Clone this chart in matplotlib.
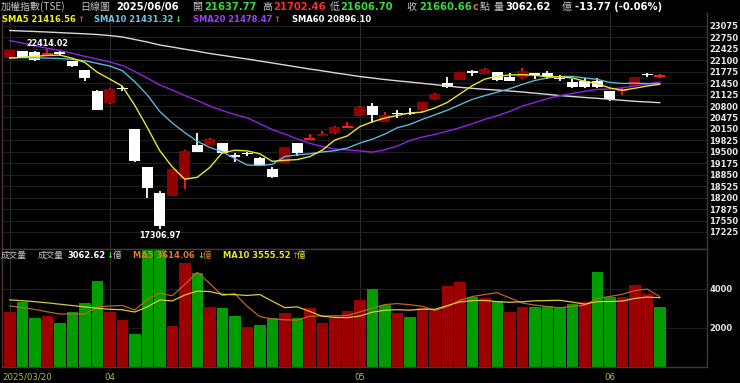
import matplotlib
matplotlib.use("Agg")
import matplotlib.pyplot as plt
from matplotlib.transforms import ScaledTranslation

W, H = 740, 383
CJK = ['Noto Sans CJK TC', 'DejaVu Sans']

# trading days shown (2025)
dates = ['03/20', '03/21', '03/24', '03/25', '03/26', '03/27', '03/28', '03/31',
         '04/01', '04/02', '04/07', '04/08', '04/09', '04/10', '04/11', '04/14',
         '04/15', '04/16', '04/17', '04/18', '04/21', '04/22', '04/23', '04/24',
         '04/25', '04/28', '04/29', '04/30',
         '05/02', '05/05', '05/06', '05/07', '05/08', '05/09', '05/12', '05/13',
         '05/14', '05/15', '05/16', '05/19', '05/20', '05/21', '05/22', '05/23',
         '05/26', '05/27', '05/28', '05/29',
         '06/02', '06/03', '06/04', '06/05', '06/06']

opens = [22154, 22361, 22341, 22255, 22320, 22077, 21828, 21240, 20877, 21300,
         20148, 19060, 18340, 18255, 18720, 19685, 19693, 19742, 19375, 19450,
         19316, 19012, 19174, 19742, 19845, 19949, 20026, 20190, 20516, 20800,
         20355, 20585, 20575, 20687, 20990, 21462, 21547, 21755, 21708, 21765,
         21632, 21586, 21723, 21745, 21570, 21490, 21518, 21518, 21235, 21225,
         21376, 21690, 21637.77]
highs = [22395, 22370, 22370, 22414.02, 22390, 22090, 21835, 21250, 21311, 21368,
         20160, 19070, 18388, 19010, 19540, 20026, 19884, 19750, 19458, 19503,
         19361, 19061, 19640, 19750, 20006, 20091, 20230, 20338, 20790, 20877,
         20638, 20687, 20735, 20910, 21178, 21615, 21770, 21822, 21870, 21770,
         21728, 21870, 21740, 21794, 21680, 21558, 21603, 21586, 21240, 21303,
         21620, 21745, 21702.46]
lows = [22150, 22185, 22090, 22228, 22228, 21907, 21518, 20690, 20870, 21234,
        19200, 18181, 17306.97, 18250, 18436, 19495, 19690, 19450, 19220, 19381,
        19090, 18770, 19170, 19381, 19840, 19945, 20020, 20185, 20510, 20326,
        20350, 20451, 20545, 20621, 20985, 21325, 21540, 21652, 21700, 21501,
        21510, 21580, 21558, 21558, 21518, 21303, 21303, 21325, 20942, 21112,
        21370, 21615, 21606.70]
closes = [22390, 22191, 22097, 22262, 22290, 21944, 21603, 20696, 21285, 21283,
          19232, 18460, 17392, 19000, 19529, 19503, 19855, 19475, 19361, 19438,
          19097, 18777, 19628, 19458, 19860, 20006, 20213, 20213, 20780, 20545,
          20545, 20573, 20565, 20905, 21132, 21331, 21765, 21745, 21842, 21538,
          21518, 21802, 21672, 21615, 21558, 21331, 21348, 21331, 20990, 21235,
          21615, 21674, 21660.66]

sma5 = [22160, 22185, 22210, 22235, 22246, 22157, 22039, 21759, 21566, 21365,
        20822, 20194, 19533, 19073, 18723, 18777, 19056, 19472, 19545, 19526,
        19445, 19230, 19260, 19280, 19364, 19546, 19833, 19950, 20214, 20351,
        20459, 20531, 20602, 20627, 20744, 20901, 21140, 21376, 21563, 21644,
        21682, 21689, 21674, 21629, 21633, 21596, 21505, 21437, 21312, 21247,
        21304, 21369, 21416.56]
sma10 = [22170, 22172, 22168, 22160, 22150, 22125, 22086, 22010, 21935, 21805,
         21490, 21117, 20646, 20320, 20044, 19800, 19625, 19503, 19309, 19125,
         19111, 19143, 19366, 19412, 19445, 19496, 19531, 19605, 19747, 19858,
         20003, 20182, 20276, 20421, 20548, 20680, 20835, 20989, 21095, 21194,
         21291, 21414, 21525, 21596, 21639, 21639, 21597, 21556, 21470, 21440,
         21450, 21437, 21431.32]
sma20 = [22659, 22588, 22512, 22438, 22375, 22296, 22211, 22134, 22049, 21950,
         21780, 21595, 21396, 21254, 21098, 20956, 20800, 20672, 20559, 20465,
         20300, 20130, 20006, 19866, 19744, 19648, 19578, 19554, 19528, 19491,
         19557, 19662, 19821, 19916, 19996, 20088, 20183, 20297, 20421, 20526,
         20647, 20798, 20900, 21008, 21093, 21159, 21216, 21272, 21283, 21317,
         21371, 21426, 21478.47]
sma60 = [22943, 22929, 22915, 22900, 22883, 22866, 22849, 22829, 22800, 22760,
         22688, 22617, 22531, 22474, 22412, 22355, 22290, 22239, 22185, 22134,
         22077, 22021, 21964, 21907, 21850, 21799, 21742, 21691, 21637, 21595,
         21552, 21515, 21481, 21444, 21407, 21368, 21331, 21302, 21274, 21254,
         21226, 21198, 21164, 21132, 21098, 21070, 21042, 21019, 20990, 20962,
         20934, 20914, 20896.10]

# volume in 億, colour by change vs previous close
volumes = [2836, 3349, 2528, 2600, 2272, 2836, 3297, 4410, 2805, 2426,
           1677, 6100, 6300, 2103, 5316, 4803, 3094, 3008, 2598, 2034,
           2171, 2513, 2786, 2513, 3008, 2274, 2530, 2855, 3436, 4000,
           3179, 2786, 2564, 3026, 2923, 4171, 4376, 3573, 3538, 3385,
           2838, 3060, 3060, 3145, 3060, 3231, 3333, 4855, 3607, 3607,
           4205, 3744, 3062.62]
vol_dir = 'rggrggggrrgggrrgrggrggrgrrrrrggrgrrrrgrgrrggggrggrrrg'
vol_ma5 = [3130, 3050, 2950, 2830, 2717, 2717, 2707, 3083, 3124, 3155,
           2923, 3454, 3792, 3651, 4229, 4854, 4283, 3665, 3764, 3107,
           2581, 2465, 2420, 2403, 2598, 2619, 2622, 2636, 2821, 3019,
           3200, 3251, 3193, 3111, 2896, 3094, 3412, 3614, 3716, 3809,
           3542, 3279, 3176, 3098, 3033, 3111, 3166, 3525, 3617, 3727,
           3921, 3991, 3614.06]
vol_ma10 = [3440, 3400, 3350, 3290, 3220, 3150, 3080, 3010, 2960, 2936,
            2820, 3080, 3437, 3388, 3692, 3889, 3868, 3728, 3708, 3668,
            3718, 3374, 3043, 3084, 2853, 2600, 2544, 2528, 2612, 2809,
            2909, 2937, 2915, 2966, 2957, 3147, 3332, 3403, 3414, 3352,
            3318, 3345, 3395, 3407, 3421, 3327, 3222, 3351, 3357, 3380,
            3516, 3585, 3555.52]

price_ticks = [17225, 17550, 17875, 18200, 18525, 18850, 19175, 19500, 19825,
               20150, 20475, 20800, 21125, 21450, 21775, 22100, 22425, 22750, 23075]
vol_ticks = [2000, 4000]

RED_BODY = '#930000'
RED_WICK = '#ff1a1a'
WHITE = '#ffffff'
GREEN_TXT = '#33dd33'
RED_TXT = '#ff2a2a'
GREY_TXT = '#c4c4c4'
GRID = '#1e1e1e'
VGRID = '#2c2c2c'
EDGE = '#4a3434'


def box(left, top, right, bottom):
    return [left / W, 1 - bottom / H, (right - left) / W, (bottom - top) / H]


fig = plt.figure(figsize=(W / 100, H / 100), dpi=100, facecolor='black')
ax = fig.add_axes(box(2, 13, 707, 249))
axv = fig.add_axes(box(2, 249, 707, 367), sharex=ax)

n = len(dates)
xs = list(range(n))
month_idx = [0] + [i for i in range(1, n) if dates[i][:2] != dates[i - 1][:2]]
month_lbl = ['2025/' + dates[0]] + [dates[i][:2] for i in month_idx[1:]]

for a in (ax, axv):
    a.set_facecolor('black')
    for s in a.spines.values():
        s.set_color(EDGE)
        s.set_linewidth(1)
    a.set_xticks(month_idx)
    a.grid(axis='x', color=VGRID, lw=0.8)
    a.grid(axis='y', color=GRID, lw=0.8)
    a.set_axisbelow(True)
    a.yaxis.tick_right()
    a.tick_params(axis='y', length=0, pad=1.5, labelsize=6, labelcolor='#e6e6e6')
ax.spines['top'].set_visible(False)

ax.set_xlim(-0.62, 55.78)
ax.set_ylim(16742, 23440)
ax.set_yticks(price_ticks)
ax.tick_params(axis='x', length=0, labelbottom=False)

# candles
body_w = 0.88
for i in xs:
    o, h, l, c = opens[i], highs[i], lows[i], closes[i]
    up = c >= o
    ax.vlines(i, l, h, colors=RED_WICK if up else WHITE, lw=1.3, zorder=2)
    ax.bar(i, max(abs(c - o), 40), bottom=min(o, c), width=body_w,
           color=RED_BODY if up and abs(c - o) > 40 else (RED_WICK if up else WHITE),
           lw=0, zorder=3)

ax.plot(xs, sma60, color='#d8d8d8', lw=1.0, zorder=4)
ax.plot(xs, sma20, color='#9420e6', lw=1.0, zorder=4)
ax.plot(xs, sma10, color='#5cb6d6', lw=1.0, zorder=4)
ax.plot(xs, sma5, color='#e6e632', lw=1.0, zorder=5)

hi = highs.index(max(highs))
lo = lows.index(min(lows))
ax.annotate(f'{highs[hi]:.2f}', xy=(hi, highs[hi]), xytext=(0, 1), textcoords='offset pixels',
            ha='center', va='bottom', color=WHITE, fontsize=5.8, fontweight='bold', zorder=6)
ax.annotate(f'{lows[lo]:.2f}', xy=(lo, lows[lo]), xytext=(0, -2), textcoords='offset pixels',
            ha='center', va='top', color=WHITE, fontsize=5.8, fontweight='bold', zorder=6)

# volume
axv.bar(xs, volumes, width=0.92, lw=0,
        color=['#9c0000' if d == 'r' else '#009c00' for d in vol_dir], zorder=2)
axv.plot(xs, vol_ma5, color='#b8662c', lw=0.9, zorder=3)
axv.plot(xs, vol_ma10, color='#d8c83a', lw=0.9, zorder=3)
axv.set_ylim(0, 6050)
axv.set_yticks(vol_ticks)
axv.set_xticklabels(month_lbl)
axv.tick_params(axis='x', length=0, pad=4, labelsize=6.2, labelcolor='#b8b83c')
first = axv.get_xticklabels()[0]
first.set_horizontalalignment('left')
first.set_transform(first.get_transform() + ScaledTranslation(-0.07, 0, fig.dpi_scale_trans))
for lbl in ax.get_yticklabels() + axv.get_yticklabels():
    lbl.set_fontweight('bold')


def put(x, y, s, color, size=7, bold=True, cjk=False):
    fig.text(x / W, 1 - y / H, s, color=color, fontsize=size,
             fontweight='bold' if bold else 'normal', ha='left', va='center',
             family=CJK if cjk else 'DejaVu Sans', zorder=10)


# header row 1
put(1, 7, '加權指數(TSE)', GREY_TXT, 7.2, False, True)
put(80, 7, '日線圖', GREY_TXT, 7.2, False, True)
put(116, 7, '2025/06/06', WHITE, 7.2)
put(192, 7, '開', GREY_TXT, 7.2, False, True)
put(204, 7, '21637.77', GREEN_TXT, 7.2)
put(262, 7, '高', GREY_TXT, 7.2, False, True)
put(273, 7, '21702.46', RED_TXT, 7.2)
put(330, 7, '低', GREY_TXT, 7.2, False, True)
put(340, 7, '21606.70', GREEN_TXT, 7.2)
put(406, 7, '收', GREY_TXT, 7.2, False, True)
put(419, 7, '21660.66', GREEN_TXT, 7.2)
put(473, 7, 'c', '#c87a30', 7.2)
put(480, 7, '點', GREY_TXT, 7.2, False, True)
put(493, 7, '量', GREY_TXT, 7.2, False, True)
put(505, 7, '3062.62', WHITE, 7.2)
put(562, 7, '億', GREY_TXT, 7.2, False, True)
put(575, 7, '-13.77 (-0.06%)', WHITE, 7.2)

# header row 2
put(2, 19, 'SMA5 21416.56', '#f0f020', 6)
put(77, 19, '↑', RED_TXT, 6)
put(94, 19, 'SMA10 21431.32', '#6cc4e4', 6)
put(174, 19, '↓', GREEN_TXT, 6)
put(193, 19, 'SMA20 21478.47', '#a040f8', 6)
put(273, 19, '↑', RED_TXT, 6)
put(292, 19, 'SMA60 20896.10', WHITE, 6)

# volume header
put(1, 255, '成交量', GREY_TXT, 6.2, False, True)
put(38, 255, '成交量', GREY_TXT, 6.2, False, True)
put(67, 255, '3062.62', WHITE, 6)
put(106, 255, '↓', GREEN_TXT, 6)
put(113, 255, '億', GREY_TXT, 6.2, False, True)
put(133, 255, 'MA5 3614.06', '#e07a20', 6)
put(197, 255, '↓', GREEN_TXT, 6)
put(203, 255, '億', '#e07a20', 6.2, False, True)
put(223, 255, 'MA10 3555.52', '#e8e820', 6)
put(291, 255, '↑', RED_TXT, 6)
put(297, 255, '億', '#e8e820', 6.2, False, True)

fig.savefig('out.png', dpi=100, facecolor='black')
